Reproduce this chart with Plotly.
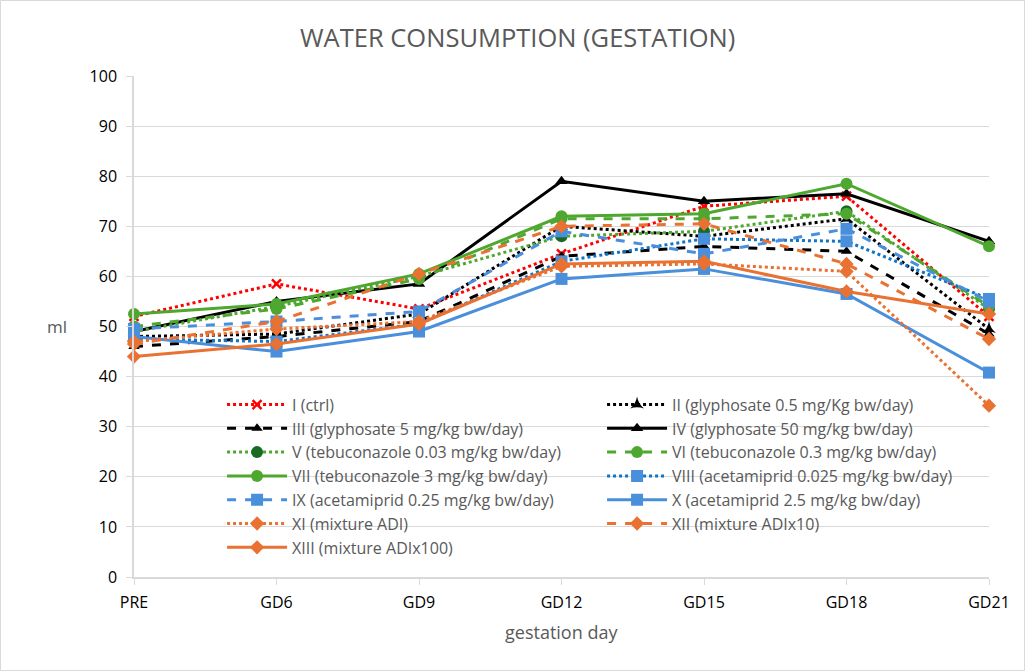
import plotly.graph_objects as go

# gestation days on the x axis
days = ["PRE", "GD6", "GD9", "GD12", "GD15", "GD18", "GD21"]

# water consumption in ml
grp_I = [52.0, 58.5, 53.5, 64.5, 74.0, 76.0, 52.0]
grp_II = [48.0, 48.5, 52.5, 70.0, 68.0, 71.5, 49.5]
grp_III = [46.0, 48.0, 51.0, 64.0, 66.0, 65.0, 48.5]
grp_IV = [49.0, 55.0, 58.5, 79.0, 75.0, 76.5, 67.0]
grp_V = [49.0, 54.0, 60.0, 68.0, 69.0, 73.0, 53.5]
grp_VI = [50.0, 53.5, 59.5, 71.5, 71.5, 72.5, 54.0]
grp_VII = [52.5, 54.5, 60.5, 72.0, 72.5, 78.5, 66.0]
grp_VIII = [47.5, 47.0, 50.5, 63.0, 67.5, 67.0, 55.5]
grp_IX = [49.5, 51.0, 53.0, 69.0, 64.5, 69.5, 55.0]
grp_X = [48.0, 45.0, 49.0, 59.5, 61.5, 56.5, 40.8]
grp_XI = [47.0, 49.5, 51.0, 62.0, 62.5, 61.0, 34.2]
grp_XII = [46.5, 51.0, 60.5, 70.0, 70.5, 62.5, 47.5]
grp_XIII = [44.0, 46.5, 50.5, 62.5, 63.0, 57.0, 52.5]

RED = "#ff0000"
BLACK = "#000000"
GREEN = "#4ea72e"
DKGREEN = "#196b24"
BLUE = "#4a8fdb"
DKBLUE = "#0f75c6"
ORANGE = "#e97132"

# name, values, line colour, dash, marker symbol, marker colour, marker size
series = [
    ("I (ctrl)", grp_I, RED, "dot", "x-thin", RED, 9),
    ("II (glyphosate 0.5 mg/Kg bw/day)", grp_II, BLACK, "dot", "star-triangle-up", BLACK, 10),
    ("III (glyphosate 5 mg/kg bw/day)", grp_III, BLACK, "dash", "triangle-up", BLACK, 10),
    ("IV (glyphosate 50 mg/kg bw/day)", grp_IV, BLACK, "solid", "triangle-up", BLACK, 11),
    ("V (tebuconazole 0.03 mg/kg bw/day)", grp_V, GREEN, "dot", "circle", DKGREEN, 12),
    ("VI (tebuconazole 0.3 mg/kg bw/day)", grp_VI, GREEN, "dash", "circle", GREEN, 12),
    ("VII (tebuconazole 3 mg/kg bw/day)", grp_VII, GREEN, "solid", "circle", GREEN, 12),
    ("VIII (acetamiprid 0.025 mg/kg bw/day)", grp_VIII, DKBLUE, "dot", "square", BLUE, 12),
    ("IX (acetamiprid 0.25 mg/kg bw/day)", grp_IX, BLUE, "dash", "square", BLUE, 12),
    ("X (acetamiprid 2.5 mg/kg bw/day)", grp_X, BLUE, "solid", "square", BLUE, 12),
    ("XI (mixture ADI)", grp_XI, ORANGE, "dot", "diamond", ORANGE, 11),
    ("XII (mixture ADIx10)", grp_XII, ORANGE, "dash", "diamond", ORANGE, 11),
    ("XIII (mixture ADIx100)", grp_XIII, ORANGE, "solid", "diamond", ORANGE, 11),
]

FONT = "Open Sans"
GREY = "#595959"

fig = go.Figure()
for name, vals, col, dash, sym, mcol, msize in series:
    if sym == "x-thin":
        marker = dict(symbol=sym, size=msize, color=mcol, line=dict(color=mcol, width=2.5))
    else:
        marker = dict(symbol=sym, size=msize, color=mcol, line=dict(width=0))
    fig.add_trace(go.Scatter(
        x=days, y=vals, name=name, mode="lines+markers",
        line=dict(color=col, width=3, dash=dash),
        marker=marker, cliponaxis=False,
    ))

fig.update_layout(
    width=1025, height=671,
    margin=dict(l=134, r=36, t=76, b=94, autoexpand=False),
    paper_bgcolor="white", plot_bgcolor="white",
    font=dict(family=FONT, size=16, color=GREY),
    title=dict(text="WATER CONSUMPTION (GESTATION)", x=0.505, xref="container",
               y=1 - 38 / 671, yref="container", yanchor="middle",
               font=dict(size=25.5, color=GREY, family=FONT)),
    legend=dict(orientation="h", x=0.103, y=0.378, xanchor="left", yanchor="top",
                entrywidth=305, entrywidthmode="pixels", itemwidth=60,
                font=dict(size=16, color=GREY, family=FONT),
                bgcolor="rgba(0,0,0,0)", traceorder="normal"),
    showlegend=True,
)

fig.update_xaxes(type="category", range=[0, 6], showgrid=False,
                 showline=True, linecolor="#d9d9d9", linewidth=1.5,
                 ticks="outside", ticklen=6, tickcolor="#d9d9d9",
                 ticklabelstandoff=4,
                 tickfont=dict(size=16, color="#000000"), zeroline=False)
fig.update_yaxes(range=[0, 100], dtick=10, showgrid=True, gridcolor="#d9d9d9",
                 showline=True, linecolor="#d9d9d9", linewidth=1.5,
                 ticks="outside", ticklen=6, tickcolor="#d9d9d9",
                 ticklabelstandoff=6,
                 tickfont=dict(size=16, color="#000000"), zeroline=False)

fig.add_annotation(text="ml", x=-77 / 855, y=0.5, xref="paper", yref="paper",
                   xanchor="center", yanchor="middle",
                   showarrow=False, font=dict(size=17, color=GREY, family=FONT))
fig.add_annotation(text="gestation day", x=0.5, y=-55 / 501, xref="paper", yref="paper",
                   xanchor="center", yanchor="middle",
                   showarrow=False, font=dict(size=18, color=GREY, family=FONT))

# thin frame round the whole chart
fig.add_shape(type="rect", xref="paper", yref="paper",
              x0=-133.5 / 855, x1=1 + 35.5 / 855, y0=-93.5 / 501, y1=1 + 75.5 / 501,
              line=dict(color="#d9d9d9", width=1))

fig.write_html("out.html", config={"displayModeBar": False},
               post_script="document.body.style.margin='0';")
